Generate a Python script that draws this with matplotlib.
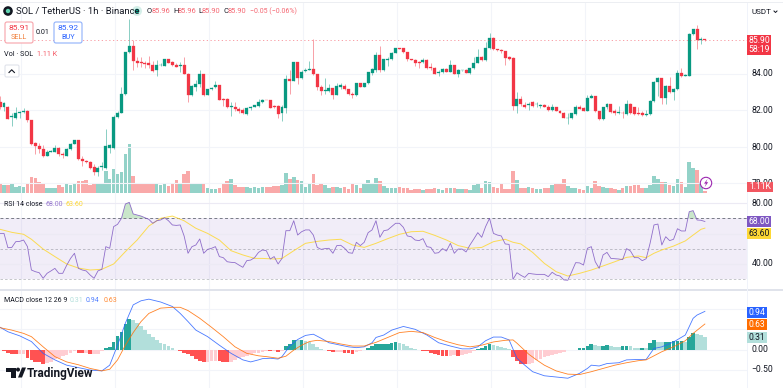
import numpy as np
import matplotlib
matplotlib.use("Agg")
import matplotlib.pyplot as plt
from matplotlib.patches import Rectangle, FancyBboxPatch, Circle, Polygon

plt.rcParams['font.family'] = ['Roboto', 'DejaVu Sans']

# ---- candles, 1h SOL/USDT
opens = [82.42,82.20,82.20,81.62,81.57,81.84,81.91,81.97,81.47,80.20,
80.02,79.89,79.51,79.73,79.73,79.93,79.62,79.51,79.87,80.13,
80.37,79.35,79.22,79.18,78.89,78.60,78.89,78.84,79.93,79.93,
81.62,81.87,82.87,85.16,85.51,84.71,84.64,84.58,84.56,84.47,
84.17,84.45,84.44,84.80,84.64,84.49,84.42,84.47,84.00,82.84,
83.29,83.44,83.95,82.84,83.15,83.25,83.38,82.62,82.60,82.20,
82.20,82.09,82.02,81.78,82.11,82.20,82.24,82.46,82.57,82.57,
82.24,82.24,81.84,82.13,83.71,83.62,84.62,83.78,84.15,84.22,
84.26,83.95,83.29,83.07,83.07,83.20,82.84,83.29,83.33,83.13,
82.89,82.84,83.47,83.27,83.47,84.02,84.17,85.04,84.17,84.76,
84.80,85.15,85.38,85.38,85.18,84.80,84.76,84.64,84.62,84.75,
84.35,84.31,84.04,84.07,84.24,84.09,84.47,84.00,84.18,84.18,
84.04,84.29,84.60,84.93,84.75,85.40,85.95,85.33,85.29,85.22,
84.93,84.84,82.24,82.60,82.29,82.29,82.42,82.31,82.24,82.27,
82.18,82.02,82.16,81.98,81.87,81.57,81.55,81.80,82.16,82.11,
81.95,82.65,82.78,81.95,81.51,82.16,82.31,81.95,81.87,81.87,
81.80,82.35,82.16,81.84,81.82,81.75,81.78,82.49,83.56,83.73,
82.64,83.33,83.00,83.15,84.02,83.87,83.87,86.16,86.42,85.84,
85.87]
closes = [82.20,82.38,81.51,81.66,81.84,81.91,81.98,81.47,80.15,80.06,
79.89,79.51,79.73,79.78,79.93,79.60,79.55,79.87,80.13,80.37,
79.35,79.22,79.15,78.86,78.60,78.86,78.93,80.06,80.09,81.62,
81.87,82.87,85.16,85.51,84.69,84.60,84.56,84.53,84.47,84.15,
84.47,84.47,84.80,84.60,84.45,84.38,84.47,84.00,82.84,83.33,
83.44,83.95,82.84,83.15,83.22,83.36,82.57,82.53,82.16,82.24,
82.06,81.93,81.84,82.11,82.20,82.26,82.46,82.57,82.55,82.13,
82.16,81.80,82.20,83.71,83.62,84.62,83.78,84.11,84.22,84.26,
83.95,83.25,83.07,83.11,83.20,82.84,83.33,83.35,83.15,82.89,
82.84,83.47,83.27,83.47,84.06,84.24,85.04,84.17,84.78,84.80,
85.15,85.38,85.36,85.16,84.78,84.76,84.60,84.60,84.75,84.29,
84.29,84.00,84.11,84.26,84.09,84.47,84.00,84.20,84.20,84.04,
84.29,84.60,84.93,84.75,85.40,85.95,85.33,85.27,85.22,84.86,
84.80,82.24,82.62,82.35,82.18,82.35,82.24,82.35,82.27,82.20,
82.02,82.16,81.98,81.87,81.58,81.58,81.84,82.16,82.09,81.98,
82.64,82.78,81.93,81.51,82.16,82.31,81.89,81.84,81.91,81.82,
82.35,81.84,81.80,81.80,81.71,81.80,82.49,83.56,83.73,82.64,
83.33,83.00,83.18,84.02,83.87,83.91,86.16,86.42,85.84,85.87,
85.82]
highs = [82.75,82.42,82.24,81.84,82.16,81.98,82.13,82.02,81.47,80.24,
80.20,80.11,79.80,79.84,80.11,79.97,79.69,79.91,80.20,80.37,
80.38,79.47,79.29,79.22,79.07,78.93,79.15,80.96,80.17,81.75,
81.93,83.25,85.20,86.97,85.84,84.93,84.93,84.71,84.97,84.66,
84.75,84.56,84.82,84.80,84.69,84.60,84.64,84.93,84.02,83.36,
83.66,84.17,83.98,83.18,83.25,83.62,83.40,82.64,82.64,82.47,
82.42,82.16,82.11,82.16,82.24,82.29,82.60,82.60,82.57,82.57,
82.26,82.27,82.27,83.93,84.20,84.64,84.64,84.17,84.29,84.66,
85.87,83.98,83.36,83.75,83.44,83.22,83.47,83.51,83.44,83.18,
83.00,83.51,83.51,83.51,84.09,84.29,85.18,85.51,84.82,84.89,
85.18,85.40,85.40,85.42,85.20,84.82,84.82,84.67,84.86,84.78,
84.60,84.35,84.17,84.31,84.31,84.75,84.49,84.24,84.22,84.24,
84.33,84.89,85.36,84.97,85.75,86.20,85.98,85.36,85.33,85.25,
84.97,84.89,83.00,82.78,82.46,82.47,82.49,82.46,82.35,82.35,
82.27,82.35,82.20,82.00,81.91,81.84,81.87,82.27,82.27,82.16,
82.84,82.86,82.80,81.98,82.20,82.38,82.35,82.09,82.24,81.98,
82.57,82.38,82.20,82.16,81.98,82.02,82.57,83.60,83.80,83.76,
83.36,83.80,83.22,84.20,84.31,83.98,86.20,86.46,86.67,85.98,
85.91]
lows = [82.06,81.98,81.51,81.15,81.51,81.57,81.84,81.38,80.11,79.62,
79.66,79.44,79.47,79.69,79.69,79.47,79.38,79.47,79.84,80.13,
79.29,78.97,79.11,78.78,78.46,78.38,78.75,78.78,79.66,79.87,
81.57,81.84,82.84,85.11,84.20,84.35,84.38,84.31,84.29,84.11,
83.87,84.42,84.40,84.56,84.42,84.35,84.06,83.98,82.47,82.78,
83.04,83.25,82.75,82.82,83.11,83.22,82.53,82.24,82.11,81.69,
81.98,81.87,81.80,81.71,82.02,82.16,82.16,82.38,82.53,82.11,
82.11,81.55,81.40,81.87,82.89,83.58,83.44,83.69,84.09,84.17,
83.91,83.11,82.84,82.86,83.00,82.60,82.82,83.15,83.11,82.84,
82.64,82.80,83.25,83.25,83.44,83.93,84.11,84.06,84.13,84.42,
84.75,85.11,85.33,85.15,84.67,84.73,84.42,84.31,84.56,84.27,
84.20,83.98,83.84,84.04,84.07,84.07,83.98,83.80,84.15,84.02,
84.00,84.26,84.56,84.71,84.71,85.36,85.31,85.24,85.15,84.49,
84.75,82.02,81.84,82.24,82.13,82.02,82.16,82.20,82.13,82.16,
81.95,81.95,81.95,81.84,81.55,81.25,81.51,81.76,82.06,81.93,
81.93,82.64,81.89,81.47,81.47,82.09,81.87,81.73,81.80,81.55,
81.76,81.80,81.73,81.73,81.67,81.69,81.75,82.46,82.75,82.31,
82.31,82.96,82.53,83.11,83.80,83.84,83.84,86.13,85.33,85.62,
85.80]
# volume in K
volumes = [5.6,4.1,4.1,4.6,3.3,3.7,3.3,4.8,8.5,8.3,
5.7,4.8,2.6,2.6,2.6,4.1,3.1,4.6,4.1,4.8,
6.5,6.3,7.0,4.1,4.8,5.4,5.6,12.0,7.6,13.1,
10.4,11.7,21.3,26.9,9.4,5.4,4.8,5.2,5.6,4.8,
4.6,4.1,4.8,3.7,4.8,6.9,5.6,10.2,11.9,5.0,
4.8,4.8,4.6,2.6,2.2,1.9,2.8,5.6,6.3,7.4,
4.1,3.0,3.0,3.1,2.6,3.0,2.8,3.3,3.0,3.1,
3.7,3.7,4.1,10.7,7.6,8.7,6.9,6.5,3.3,4.6,
10.4,4.3,4.6,4.3,2.8,3.3,3.1,2.8,3.3,2.0,
5.4,4.3,2.6,5.6,6.9,5.4,8.1,6.7,3.7,2.8,
2.8,2.8,3.1,2.6,2.8,1.5,2.2,2.0,1.7,2.0,
2.0,2.8,2.0,1.7,2.6,2.8,2.8,2.2,2.2,1.9,
1.5,4.1,5.0,2.4,6.5,5.9,3.3,2.6,5.0,2.2,
2.2,11.9,7.0,2.4,2.4,3.1,2.6,1.9,1.9,2.6,
2.6,4.1,4.8,5.2,7.6,3.7,2.6,2.6,2.0,1.5,
3.5,2.4,6.3,3.7,3.1,2.8,2.6,2.0,1.7,2.4,
3.7,3.7,4.1,4.1,2.6,2.6,4.3,9.3,7.8,5.7,
6.1,4.1,3.7,7.4,6.1,3.3,16.9,13.9,12.6,5.2,
1.11]

rsi = [60.1,60.1,50.6,50.8,54.6,54.8,55.7,51.3,35.8,34.7,
34.0,30.3,33.6,35.2,36.9,33.6,33.6,38.9,43.5,46.9,
36.9,35.8,35.2,32.5,30.3,35.2,36.3,51.3,50.2,64.6,
66.1,70.1,79.6,80.7,73.0,72.3,71.6,70.5,69.4,66.8,
68.5,69.0,70.5,68.5,65.7,65.4,65.7,58.4,46.9,51.3,
52.4,56.4,46.9,49.5,50.2,51.3,44.7,44.0,41.3,40.9,
40.7,39.1,37.6,42.0,42.4,44.0,47.5,49.1,48.6,43.1,
44.7,39.8,43.5,61.9,61.9,68.5,59.0,61.2,62.4,62.4,
59.0,50.8,49.5,50.0,50.2,46.9,52.0,52.2,50.2,47.3,
46.9,54.2,52.0,54.2,60.6,62.4,68.5,57.5,61.9,62.4,
64.6,66.8,66.8,64.1,58.4,57.9,55.7,55.3,56.6,51.3,
50.8,46.9,47.3,50.0,48.4,53.5,46.9,49.7,49.7,47.8,
52.4,56.4,60.6,57.5,64.6,70.1,60.1,59.0,58.4,53.1,
52.8,29.6,34.0,32.3,30.9,33.6,33.2,32.9,32.9,32.9,
31.4,34.3,32.5,31.8,29.2,29.0,34.7,40.7,40.5,39.1,
50.2,51.3,41.3,36.9,45.8,47.5,43.5,43.3,43.1,42.7,
50.0,48.4,44.0,44.0,42.0,43.3,53.5,65.7,66.3,52.4,
57.9,55.3,56.2,63.2,61.7,61.7,74.5,75.2,69.0,68.8,
68.0]

rsi_ma_idx = [0,3,6,8,11,14,17,20,23,26,29,32,35,38,41,44,47,50,53,56,59,62,65,67,70,72,75,78,81,84,87,90,93,96,99,
102,105,108,111,114,117,120,123,126,129,131,133,136,139,142,145,148,151,154,157,160,163,165,167,169,172,175,177,179,180]
rsi_ma = [62.8,60.8,59.5,56.2,49.7,44.7,39.8,37.1,35.8,36.3,39.8,48.0,55.7,65.0,70.1,71.6,68.5,63.5,60.1,55.7,48.6,45.8,43.5,43.5,43.1,43.5,48.6,53.5,54.8,55.7,56.2,52.4,50.8,53.5,56.6,
59.5,61.2,61.5,58.8,55.7,52.0,50.2,50.8,54.6,56.2,54.2,53.1,47.5,40.2,34.7,31.8,33.6,35.8,38.5,41.3,44.2,45.1,44.0,46.9,49.1,51.7,55.1,59.0,62.8,63.6]

macd_idx = [0,2,5,8,11,14,17,20,23,26,28,30,32,34,36,38,41,44,46,48,50,53,56,59,62,64,66,67,69,71,72,74,76,78,80,82,84,86,89,91,93,95,96,98,100,103,106,109,112,115,118,120,122,124,126,128,130,132,134,136,139,142,145,148,150,151,153,155,158,160,163,165,167,169,172,175,177,178,180]
macd = [0.55,0.44,0.34,0.20,-0.09,-0.25,-0.38,-0.44,-0.50,-0.52,-0.38,0.11,0.65,1.10,1.20,1.24,1.17,1.06,0.89,0.69,0.48,0.32,0.11,-0.09,-0.25,-0.30,-0.25,-0.22,-0.21,-0.23,-0.17,0.09,0.25,0.35,0.38,0.28,0.17,0.13,0.07,0.05,0.07,0.17,0.30,0.36,0.48,0.57,0.50,0.36,0.17,0.09,0.02,0.02,0.07,0.22,0.31,0.31,0.24,-0.21,-0.38,-0.54,-0.64,-0.67,-0.70,-0.58,-0.46,-0.38,-0.40,-0.34,-0.32,-0.25,-0.24,-0.24,0.03,0.07,0.19,0.36,0.77,0.85,0.94]

signal_idx = [0,3,6,8,11,14,17,20,23,26,28,30,32,34,36,38,41,44,46,48,51,54,57,60,63,66,68,71,73,75,77,79,81,84,87,90,93,96,99,102,105,108,111,114,117,120,123,126,129,131,132,133,135,137,139,142,145,148,151,154,157,160,163,165,167,169,172,175,177,180]
signal = [0.54,0.48,0.40,0.32,0.07,-0.17,-0.30,-0.37,-0.46,-0.52,-0.48,-0.25,0.11,0.42,0.69,0.89,1.02,1.04,1.04,0.96,0.77,0.55,0.32,0.07,-0.09,-0.15,-0.17,-0.21,-0.16,-0.01,0.11,0.20,0.23,0.20,0.14,0.09,0.09,0.18,0.30,0.42,0.45,0.42,0.30,0.20,0.12,0.07,0.11,0.19,0.23,0.24,0.16,0.07,-0.11,-0.25,-0.38,-0.52,-0.60,-0.61,-0.54,-0.46,-0.38,-0.32,-0.27,-0.25,-0.15,-0.05,0.07,0.22,0.40,0.63]

hist = [-.01,-.04,-.07,-.10,-.11,-.11,-.10,-.20,-.25,-.29,
-.31,-.34,-.33,-.29,-.23,-.20,-.16,-.12,-.07,-.04,
-.07,-.08,-.08,-.11,-.11,-.10,-.04,.03,.07,.20,
.33,.43,.64,.75,.72,.66,.57,.48,.39,.31,
.25,.16,.13,.08,.03,0,-.03,-.07,-.11,-.16,
-.23,-.27,-.30,-.29,-.28,-.27,-.28,-.30,-.31,-.29,
-.25,-.21,-.18,-.15,-.11,-.08,-.07,-.05,-.03,-.04,
-.03,-.05,-.02,.10,.15,.25,.24,.25,.21,.18,
.13,.07,.02,0,-.02,-.05,-.05,-.05,-.08,-.09,
-.11,-.05,-.03,-.01,.04,.08,.15,.15,.15,.15,
.16,.18,.16,.13,.08,.04,.01,0,-.02,-.03,
-.07,-.10,-.13,-.15,-.16,-.15,-.14,-.15,-.12,-.10,
-.07,-.03,.02,.04,.08,.14,.12,.08,.06,.04,
.02,-.17,-.28,-.34,-.36,-.36,-.33,-.26,-.23,-.18,
-.16,-.13,-.11,-.08,-.05,0,0,0,.04,.05,
.10,.15,.11,.08,.09,.11,.08,.07,.06,.08,
.09,.08,.05,.04,.04,.03,.16,.23,.20,.18,
.19,.20,.21,.21,.21,.20,.30,.41,.38,.35,
.31]

price_ticks = [78, 80, 82, 84]
rsi_ticks = [40, 60, 80]
macd_ticks = [-0.5, 0, 0.5, 1.0]
time_grid = [5.4, 29.4, 53.4, 77.4, 101.4, 125.4, 149.4, 173.4]
last_line = 85.82

W, H = 783, 388
UP, DOWN = '#089981', '#f23645'
GRID = '#f2f4f9'
CHART_R = 747

def pane(top, bottom, **kw):
    return fig.add_axes([0, 1 - bottom / H, CHART_R / W, (bottom - top) / H], **kw)

fig = plt.figure(figsize=(W / 100, H / 100), dpi=100, facecolor='white')
x = np.arange(len(closes))
xlim = (-0.02, CHART_R / 3.916)
up = np.array(closes) >= np.array(opens)

# volume sits behind the candles
vol_ax = pane(2, 192.7)
vol_ax.bar(x, volumes, width=0.9, color=np.where(up, '#93d2c8', '#f9a9a9'))
vol_ax.set_ylim(0, 105.8)

ax = pane(2, 192.7)
ax.patch.set_alpha(0)
for t in price_ticks:
    ax.axhline(t, color=GRID, lw=0.8, zorder=0)
ax.vlines(x, lows, highs, color=np.where(up, UP, DOWN), lw=0.55, alpha=0.6)
o, c = np.array(opens), np.array(closes)
ax.bar(x, np.abs(c - o), bottom=np.minimum(o, c), width=0.76, color=np.where(up, UP, DOWN),
       edgecolor=np.where(up, UP, DOWN), lw=0.2)
ax.axhline(last_line, color=DOWN, lw=0.6, ls=(0, (1.5, 3)), alpha=0.55)
ax.set_ylim(77.49, 87.91)

# rsi
rsi_ax = pane(193, 289)
rsi_ax.axhspan(30, 70, color='#7e57c2', alpha=0.1, lw=0)
for t in rsi_ticks:
    rsi_ax.axhline(t, color='#eceaf4', lw=0.8, zorder=1)
rsi_ax.axhline(70, color='#787b86', lw=0.7, ls=(0, (3, 2.5)))
rsi_ax.axhline(50, color='#787b86', lw=0.6, ls=(0, (3, 2.5)), alpha=0.5)
rsi_ax.axhline(30, color='#787b86', lw=0.6, ls=(0, (3, 2.5)), alpha=0.5)
rsi_ax.fill_between(x, 70, rsi, where=np.array(rsi) > 70, interpolate=True, color='#4caf50', alpha=0.3, lw=0)
rsi_ax.plot(rsi_ma_idx, rsi_ma, color='#fdd835', lw=0.7, alpha=0.85)
rsi_ax.plot(x, rsi, color='#7e57c2', lw=0.6, alpha=0.85)
rsi_ax.set_ylim(23.2, 86.9)

# macd
macd_ax = pane(291, 388)
for t in macd_ticks:
    macd_ax.axhline(t, color=GRID, lw=0.8, zorder=0)
colors = []
prev = 0
for v in hist:
    if v >= 0:
        colors.append('#26a69a' if v >= prev else '#b2dfdb')
    else:
        colors.append('#ff5252' if v < prev else '#ffcdd2')
    prev = v
macd_ax.bar(x, hist, width=0.94, color=colors)
macd_ax.plot(macd_idx, macd, color='#2962ff', lw=0.6, alpha=0.85)
macd_ax.plot(signal_idx, signal, color='#ff6d00', lw=0.6, alpha=0.85)
macd_ax.set_ylim(-0.94, 1.44)

for a in (vol_ax, ax, rsi_ax, macd_ax):
    a.set_xlim(*xlim)
    a.set_xticks([])
    a.set_yticks([])
    for s in a.spines.values():
        s.set_visible(False)
for a in (vol_ax, rsi_ax, macd_ax):
    for t in time_grid:
        a.axvline(t, color=GRID, lw=0.8, zorder=0)

# overlay in pixel coordinates: legends, price scale labels, logo
ov = fig.add_axes([0, 0, 1, 1], zorder=10)
ov.set_xlim(0, W)
ov.set_ylim(H, 0)
ov.axis('off')
ov.patch.set_alpha(0)

def txt(px, py, s, color='#131722', size=6.2, **kw):
    kw.setdefault('va', 'center')
    kw.setdefault('ha', 'left')
    ov.text(px, py, s, color=color, fontsize=size, **kw)

ov.add_patch(Rectangle((0, 1.5), W, 1.2, color='#eceef2', lw=0))
ov.add_patch(Rectangle((0, 289.2), CHART_R + 36, 1.3, color='#e0e3eb', lw=0))
ov.add_patch(Rectangle((CHART_R, 3), 0.8, H, color='#f0f3fa', lw=0))

# header
ov.add_patch(Circle((8, 11), 4.8, color='#131722', lw=0))
ov.add_patch(Circle((8, 11), 2.2, color='#5fd3b0', lw=0))
txt(16, 11.5, 'SOL / TetherUS · 1h · Binance', size=6.8)
ov.add_patch(Circle((137, 11), 5, color='#d5efe9', lw=0))
ov.add_patch(Circle((137, 11), 2.3, color=UP, lw=0))
txt(147, 11.5, 'O', size=5.4)
txt(151.8, 11.5, '85.96', DOWN, size=5.4, alpha=0.75)
txt(173, 11.5, 'H', size=5.4)
txt(177.8, 11.5, '85.96', DOWN, size=5.4, alpha=0.75)
txt(198, 11.5, 'L', size=5.4)
txt(202, 11.5, '85.90', DOWN, size=5.4, alpha=0.75)
txt(223, 11.5, 'C', size=5.4)
txt(227.8, 11.5, '85.90', DOWN, size=5.4, alpha=0.75)
txt(250, 11.5, '−0.05 (−0.06%)', DOWN, size=5.0, alpha=0.75)

# buy / sell
ov.add_patch(FancyBboxPatch((5, 22), 28, 21, boxstyle='round,pad=0,rounding_size=2', fc='white', ec='#f7a3aa', lw=0.8))
txt(19, 28, '85.91', DOWN, size=6.0, ha='center')
txt(19, 37.5, 'SELL', '#f0803c', size=5.2, ha='center')
txt(43, 32.5, '0.01', size=5.2, ha='center')
ov.add_patch(FancyBboxPatch((54, 22), 28, 21, boxstyle='round,pad=0,rounding_size=2', fc='white', ec='#8fb0fb', lw=0.8))
txt(68, 28, '85.92', '#2962ff', size=6.0, ha='center')
txt(68, 37.5, 'BUY', '#2962ff', size=5.2, ha='center')
txt(4, 54.5, 'Vol · SOL', size=5.2)
txt(37, 54.5, '1.11 K', DOWN, size=5.2, alpha=0.8)
ov.add_patch(FancyBboxPatch((5, 65), 14, 12, boxstyle='round,pad=0,rounding_size=1.5', fc='white', ec='#e0e3eb', lw=0.8))
ov.plot([9, 11.7, 14.4], [72.5, 69.8, 72.5], color='#131722', lw=0.8)

# right scale, price pane
txt(752, 12, 'USDT', size=5.8)
ov.plot([774, 775.5, 777], [11, 12.5, 11], color='#131722', lw=0.7)
for t in price_ticks:
    py = (88.02 - t) * 18.33
    txt(751.5, py, f'{t:.2f}', size=6.2, zorder=1)
ov.add_patch(Rectangle((747, 35), 24, 20, color=DOWN, lw=0))
txt(759, 40.5, '85.90', 'white', size=6.2, ha='center')
txt(759, 50, '58:19', 'white', size=6.2, ha='center')
ov.add_patch(Rectangle((747, 181.5), 26, 10.5, color='#f25660', lw=0, zorder=3))
txt(760, 186.8, '1.11K', 'white', size=6.2, ha='center', zorder=4)

# lightning badge
ov.add_patch(Circle((706, 183), 5.7, fc='white', ec='#9c27b0', lw=0.8))
ov.add_patch(Polygon([(707.5, 179), (704, 183.6), (706, 183.6), (704.7, 187), (708.2, 182.2), (706.2, 182.2)], color='#9c27b0', lw=0))

# rsi labels
txt(4, 204, 'RSI 14 close', size=5.0)
txt(45, 204, '68.00', '#7e57c2', size=5.0, alpha=0.8)
txt(66, 204, '63.60', '#fdd835', size=5.0)
txt(751.5, 203, '80.00', size=6.2)
txt(751.5, 263.5, '40.00', size=6.2)
ov.add_patch(Rectangle((747, 216), 24, 10.5, color='#7e57c2', lw=0))
txt(759, 221.5, '68.00', 'white', size=6.2, ha='center')
ov.add_patch(Rectangle((747, 228), 24, 10.5, color='#fdd835', lw=0))
txt(759, 233.5, '63.60', '#131722', size=6.2, ha='center')

# macd labels
txt(4, 301, 'MACD close 12 26 9', size=5.0)
txt(70, 301, '0.31', '#b2dfdb', size=5.0)
txt(86, 301, '0.94', '#2962ff', size=5.0, alpha=0.8)
txt(104, 301, '0.63', '#ff6d00', size=5.0, alpha=0.8)
txt(751.5, 350, '0.00', size=6.2)
txt(751, 370, '−0.50', size=6.2)
ov.add_patch(Rectangle((747, 306.5), 20, 11, color='#2962ff', lw=0))
txt(757, 312.2, '0.94', 'white', size=6.2, ha='center')
ov.add_patch(Rectangle((747, 319), 20, 11, color='#ff6d00', lw=0))
txt(757, 324.7, '0.63', 'white', size=6.2, ha='center')
ov.add_patch(Rectangle((747, 332), 20, 11, color='#b2dfdb', lw=0))
txt(757, 337.7, '0.31', '#131722', size=6.2, ha='center')

# logo
ov.add_patch(Polygon([(6, 367.5), (15.5, 367.5), (15.5, 377.5), (11, 377.5), (11, 371.5), (6, 371.5)], color='#131722', lw=0))
ov.add_patch(Circle((18, 369.6), 2, color='#131722', lw=0))
ov.add_patch(Polygon([(18, 377.5), (22, 367.5), (26, 367.5), (22, 377.5)], color='#131722', lw=0))
txt(26.5, 373, 'TradingView', size=8.5, weight='bold')

fig.savefig('out.png', dpi=100)
